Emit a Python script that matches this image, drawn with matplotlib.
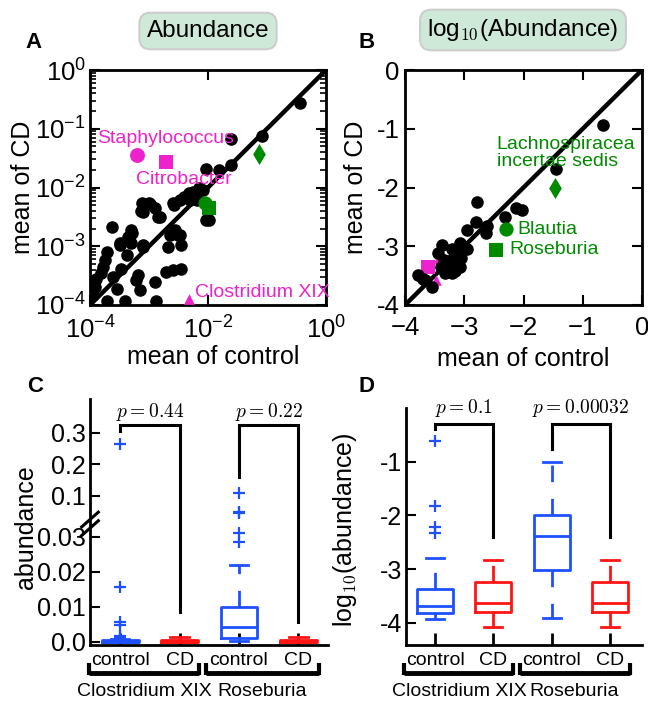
import numpy as np
import matplotlib
matplotlib.use("Agg")
import matplotlib.pyplot as plt
from matplotlib.transforms import blended_transform_factory

plt.rcParams['font.family'] = ['Liberation Sans', 'DejaVu Sans']
plt.rcParams['axes.unicode_minus'] = True

# ---------------- data ----------------
# Panel A: log10 of mean abundance (control, CD) for genera
a_ctrl_log = [-0.44, -1.09, -1.61, -1.61, -1.81, -2.04, -1.99, -2.16, -2.25, -2.33,
              -2.41, -2.47, -2.59, -2.19, -2.31, -3.12, -3.00, -2.90, -3.11, -2.82,
              -3.62, -3.31, -3.36, -3.50, -3.30, -3.38, -3.10, -2.56, -2.64, -2.47,
              -2.45, -2.67, -3.11, -3.49, -3.72, -3.75, -3.78, -3.81, -3.47, -3.61,
              -3.19, -3.22, -2.72, -2.59, -2.45, -2.90, -3.16, -3.55, -3.92, -3.95,
              -3.72, -3.41, -2.88, -3.89, -2.58, -2.99, -3.13, -2.85, -2.51, -2.03,
              -2.08, -3.28]
a_cd_log = [-0.56, -1.12, -1.18, -1.62, -1.70, -1.69, -2.55, -2.01, -2.07, -2.10,
            -2.16, -2.21, -2.27, -2.21, -2.21, -2.27, -2.26, -2.35, -2.41, -2.50,
            -2.67, -2.72, -2.84, -2.95, -2.95, -3.15, -2.98, -2.72, -2.81, -2.81,
            -2.98, -3.02, -3.01, -2.98, -3.09, -3.23, -3.35, -3.46, -3.38, -3.52,
            -3.49, -3.57, -3.43, -3.40, -3.38, -3.60, -3.74, -3.72, -3.69, -3.83,
            -3.94, -3.94, -3.93, -3.56, -2.30, -2.28, -2.40, -2.50, -2.81, -2.55,
            -2.04, -2.78]
# highlighted genera in A (log10 means)
hl_names = ['Staphylococcus', 'Citrobacter', 'Clostridium XIX',
            'Blautia', 'Roseburia', 'Lachnospiracea incertae sedis']
hl_a_ctrl_log = [-3.21, -2.72, -2.32, -2.05, -1.99, -1.13]
hl_a_cd_log = [-1.45, -1.56, -3.89, -2.26, -2.35, -1.43]

# Panel B: mean of log10(abundance)
b_ctrl = [-0.65, -1.45, -2.12, -2.03, -2.78, -2.31, -2.80, -2.62, -2.64, -2.96,
          -3.07, -2.96, -3.21, -3.38, -3.18, -3.13, -3.30, -3.07, -3.21, -3.35,
          -3.44, -3.66, -3.55, -3.78, -3.25, -3.15, -3.28, -3.40, -3.05, -3.70,
          -3.10, -3.33]
b_cd = [-0.94, -1.69, -2.35, -2.38, -2.24, -2.50, -2.58, -2.65, -2.78, -2.72,
        -2.95, -3.05, -3.05, -2.98, -3.18, -3.29, -3.35, -3.35, -3.46, -3.23,
        -3.12, -3.57, -3.69, -3.49, -3.40, -3.42, -3.25, -3.35, -3.20, -3.55,
        -3.10, -3.45]
hl_b_ctrl = [-3.38, -3.62, -3.47, -2.30, -2.46, -1.47]
hl_b_cd = [-3.27, -3.35, -3.57, -2.71, -3.06, -2.01]

# Panels C/D: box statistics (Clostridium XIX control, CD, Roseburia control, CD)
groups = ['Clostridium XIX', 'Roseburia']
conds = ['control', 'CD', 'control', 'CD']
c_med = [0.0001, 0.0001, 0.0044, 0.0001]
c_q1 = [0.0, 0.0, 0.0011, 0.0]
c_q3 = [0.0006, 0.0006, 0.0101, 0.0006]
c_wlo = [0.0, 0.0, 0.0002, 0.0]
c_whi = [0.0009, 0.0015, 0.022, 0.0015]
c_fliers = [[0.265, 0.0157, 0.0057, 0.0049, 0.0017, 0.0012], [],
            [0.109, 0.050, 0.045, 0.0312, 0.0286], []]
d_med = [-3.68, -3.63, -2.38, -3.63]
d_q1 = [-3.81, -3.79, -3.01, -3.79]
d_q3 = [-3.37, -3.23, -1.99, -3.23]
d_wlo = [-3.93, -4.07, -3.91, -4.07]
d_whi = [-2.79, -2.83, -1.00, -2.83]
d_fliers = [[-0.61, -1.82, -2.22, -2.32], [], [], []]
c_pvals = ['0.44', '0.22']
d_pvals = ['0.1', '0.00032']

# ---------------- style ----------------
MAG = '#ee22cc'
GRN = '#008a00'
BLUE = '#1e50ff'
RED = '#ff1414'
hl_colors = [MAG, MAG, MAG, GRN, GRN, GRN]
hl_markers = ['o', 's', '^', 'o', 's', 'd']
hl_sizes = [115, 105, 60, 105, 105, 115]

fig = plt.figure(figsize=(6.48, 7.01), dpi=100)
W, H = 648.0, 701.0


def axrect(x0, y0, x1, y1):
    return [x0 / W, 1 - y1 / H, (x1 - x0) / W, (y1 - y0) / H]


axA = fig.add_axes(axrect(90, 70, 326, 305))
axB = fig.add_axes(axrect(405, 70, 642, 305))
axC = fig.add_axes(axrect(90, 399, 328, 645))
axD = fig.add_axes(axrect(406, 408, 642, 645))

LBL = 18
TCK = 18.5

# ---------------- Panel A ----------------
axA.set_xscale('log')
axA.set_yscale('log')
axA.plot([1e-4, 1], [1e-4, 1], color='black', lw=3.2, zorder=2)
axA.scatter(10 ** np.array(a_ctrl_log), 10 ** np.array(a_cd_log), s=82,
            color='black', zorder=3, clip_on=True, linewidths=0)
for i in range(len(hl_names)):
    axA.scatter(10 ** hl_a_ctrl_log[i], 10 ** hl_a_cd_log[i], s=hl_sizes[i],
                marker=hl_markers[i], color=hl_colors[i], zorder=4, linewidths=0)
axA.set_xlim(1e-4, 1)
axA.set_ylim(1e-4, 1)
axA.text(10 ** -3.88, 10 ** -1.16, 'Staphylococcus', color=MAG, fontsize=14,
         va='center', ha='left', zorder=5)
axA.text(10 ** -3.22, 10 ** -1.86, 'Citrobacter', color=MAG, fontsize=14,
         va='center', ha='left', zorder=5)
axA.text(10 ** -2.22, 10 ** -3.78, 'Clostridium XIX', color=MAG, fontsize=14,
         va='center', ha='left', zorder=5, clip_on=False)
axA.tick_params(which='both', direction='in', top=True, right=True, labelsize=TCK)
axA.tick_params(which='major', length=7, width=1.5, pad=3)
axA.tick_params(axis='x', which='major', pad=8)
axA.tick_params(which='minor', length=4, width=1.2)
axA.set_xlabel('mean of control', fontsize=LBL)
axA.set_ylabel('mean of CD', fontsize=LBL)
axA.xaxis.set_label_coords(0.52, -0.17)
axA.yaxis.set_label_coords(-0.235, 0.5)
for sp in axA.spines.values():
    sp.set_linewidth(2)

# ---------------- Panel B ----------------
axB.plot([-4, 0], [-4, 0], color='black', lw=3.2, zorder=2)
for i in range(len(hl_names)):
    axB.scatter(hl_b_ctrl[i], hl_b_cd[i], s=hl_sizes[i], marker=hl_markers[i],
                color=hl_colors[i], zorder=3 if i < 3 else 5, linewidths=0)
axB.scatter(b_ctrl, b_cd, s=82, color='black', zorder=4, linewidths=0)
axB.set_xlim(-4, 0)
axB.set_ylim(-4, 0)
axB.set_xticks([-4, -3, -2, -1, 0])
axB.set_yticks([0, -1, -2, -3, -4])
axB.set_yticklabels(['0', '-1', '-2', '-3', '-4'])
axB.tick_params(direction='in', top=True, right=True, length=7, width=1.5,
                labelsize=TCK, pad=4)
axB.tick_params(axis='x', pad=8)
axB.text(-2.45, -1.41, 'Lachnospiracea\nincertae sedis', color=GRN, fontsize=14,
         va='center', ha='left', linespacing=1.0, zorder=6)
axB.text(-2.11, -2.71, 'Blautia', color=GRN, fontsize=14, va='center', ha='left')
axB.text(-2.24, -3.06, 'Roseburia', color=GRN, fontsize=14, va='center', ha='left')
axB.set_xlabel('mean of control', fontsize=LBL)
axB.set_ylabel('mean of CD', fontsize=LBL)
axB.xaxis.set_label_coords(0.5, -0.18)
axB.yaxis.set_label_coords(-0.155, 0.5)
for sp in axB.spines.values():
    sp.set_linewidth(2)

# ---------------- Panels C and D (box plots) ----------------
BRK = 0.036
HIK = 0.09


def fwd(y):
    y = np.asarray(y, dtype=float)
    return np.where(y <= BRK, y, BRK + (y - BRK) * HIK)


def inv(f):
    f = np.asarray(f, dtype=float)
    return np.where(f <= BRK, f, BRK + (f - BRK) / HIK)


positions = [1, 2, 3, 4]
box_colors = [BLUE, RED, BLUE, RED]


def draw_boxes(ax, med, q1, q3, wlo, whi, fliers):
    for i in range(4):
        st = [dict(med=med[i], q1=q1[i], q3=q3[i], whislo=wlo[i], whishi=whi[i],
                   fliers=fliers[i])]
        c = box_colors[i]
        ax.bxp(st, positions=[positions[i]], widths=0.62, capwidths=0.31,
               manage_ticks=False,
               boxprops=dict(color=c, lw=2),
               medianprops=dict(color=c, lw=2),
               whiskerprops=dict(color=c, lw=2, linestyle=(0, (6, 6))),
               capprops=dict(color=c, lw=2),
               flierprops=dict(marker='+', markeredgecolor=c, markersize=8,
                               markeredgewidth=1.6, linestyle='none'))


def style_box_axes(ax, ax_h_px):
    ax.spines['top'].set_visible(False)
    ax.spines['right'].set_visible(False)
    ax.spines['left'].set_linewidth(2)
    ax.spines['bottom'].set_linewidth(2)
    ax.set_xticks(positions)
    ax.set_xticklabels(conds, fontsize=14)
    ax.tick_params(axis='x', direction='in', length=9, width=2, pad=5)
    ax.tick_params(axis='y', direction='in', length=7, width=1.5, labelsize=18,
                   pad=3)
    ax.set_xlim(0.49, 4.5)
    tr = blended_transform_factory(ax.transData, ax.transAxes)
    yb = -(673 - 645) / ax_h_px
    leg = 10 / ax_h_px
    for (x0, x1) in [(0.47, 2.33), (2.45, 4.35)]:
        ax.plot([x0, x1], [yb, yb], color='black', lw=3.5, transform=tr,
                clip_on=False, solid_capstyle='butt')
        for xe in (x0, x1):
            ax.plot([xe, xe], [yb - 2 / ax_h_px, yb + leg], color='black', lw=3,
                    transform=tr, clip_on=False, solid_capstyle='butt')
    yg = -(692 - 645) / ax_h_px
    ax.text(1.41, yg, groups[0], transform=tr, fontsize=14, ha='center', va='center')
    ax.text(3.39, yg, groups[1], transform=tr, fontsize=14, ha='center', va='center')


def pbracket(ax, x0, x1, ytop, yl, yr, ptxt, ytxt):
    ax.plot([x0, x0, x1, x1], [yl, ytop, ytop, yr], color='black', lw=2.2,
            clip_on=False, solid_joinstyle='miter')
    ax.text((x0 + x1) / 2, ytxt, r'$p = ' + ptxt + '$', math_fontfamily='cm',
            fontsize=14, ha='center', va='center', clip_on=False)


# Panel C
axC.set_yscale('function', functions=(fwd, inv))
draw_boxes(axC, c_med, c_q1, c_q3, c_wlo, c_whi, c_fliers)
axC.set_ylim(-0.00086, 0.407)
axC.set_yticks([0, 0.01, 0.02, 0.03, 0.1, 0.2, 0.3])
axC.set_yticklabels(['0.0', '0.01', '0.02', '0.03', '0.1', '0.2', '0.3'])
axC.yaxis.set_minor_locator(matplotlib.ticker.NullLocator())
style_box_axes(axC, 246)
pbracket(axC, 1, 2, 0.325, 0.306, 0.0086, c_pvals[0], 0.366)
pbracket(axC, 3, 4, 0.325, 0.16, 0.0057, c_pvals[1], 0.366)
axC.set_ylabel('abundance', fontsize=LBL)
axC.yaxis.set_label_coords(-0.22, 0.48)
# axis break marks
for yb0 in (0.475, 0.51):
    axC.plot([-0.035, 0.035], [yb0 - 0.03, yb0 + 0.03], transform=axC.transAxes,
             color='black', lw=2.2, clip_on=False)

# Panel D
draw_boxes(axD, d_med, d_q1, d_q3, d_wlo, d_whi, d_fliers)
axD.set_ylim(-4.41, 0.0)
axD.set_yticks([-1, -2, -3, -4])
axD.set_yticklabels(['-1', '-2', '-3', '-4'])
style_box_axes(axD, 237)
axD.set_xlim(0.5, 4.55)
pbracket(axD, 1, 2, -0.29, -0.40, -2.40, d_pvals[0], 0.0)
pbracket(axD, 3, 4, -0.29, -0.76, -2.40, d_pvals[1], 0.0)
axD.set_ylabel(r'log$_{10}$(abundance)', fontsize=LBL, math_fontfamily='cm')
axD.yaxis.set_label_coords(-0.2, 0.485)

# ---------------- titles and panel letters ----------------
box = dict(boxstyle='round,pad=0.3,rounding_size=0.45', fc='#cfe9d9', ec='#cdcdcd',
           lw=1.5)
fig.text(208 / W, 1 - 31 / H, 'Abundance', fontsize=17.5, ha='center', va='center',
         bbox=box)
fig.text(523 / W, 1 - 30 / H, r'log$_{10}$(Abundance)', fontsize=17.5, ha='center',
         va='center', bbox=box, math_fontfamily='cm')
for lab, (px, py) in zip('ABCD', [(34, 42), (367, 42), (35, 386), (367, 386)]):
    fig.text(px / W, 1 - py / H, lab, fontsize=16, fontweight='bold', ha='center',
             va='center')

fig.savefig('out.png', dpi=100)
